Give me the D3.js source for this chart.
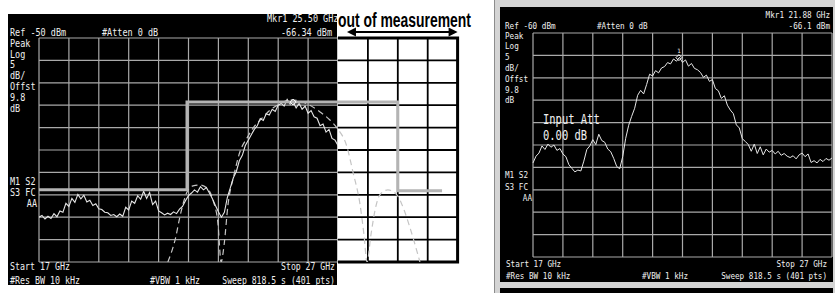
<!DOCTYPE html>
<html>
<head>
<meta charset="utf-8">
<script src="https://cdn.jsdelivr.net/npm/d3@7"></script>
<style>
body { margin: 0; background: #fff; }
svg { display: block; }
text { font-family: 'DejaVu Sans Mono', monospace; }
</style>
</head>
<body>
<svg width="835" height="293"></svg>
<script>
// sweep: 17..27 GHz, 0.1 GHz per sample
var sweepStart = 17, sweepStep = 0.1;

// left screen, measured trace (dBm)
var leftTrace = [
  -90.0,-89.6,-90.4,-89.8,-90.3,-89.2,-89.9,-88.6,-88.9,-86.9,
  -87.6,-85.8,-86.7,-84.9,-85.9,-85.1,-86.6,-86.2,-87.4,-87.0,
  -88.1,-88.3,-88.9,-89.0,-89.6,-89.4,-89.9,-89.3,-89.8,-87.8,
  -88.4,-86.4,-86.9,-85.2,-86.0,-84.2,-85.8,-84.5,-87.2,-86.4,
  -88.6,-89.0,-89.5,-89.1,-89.4,-88.8,-89.2,-88.2,-87.6,-86.3,
  -85.2,-84.6,-83.9,-84.4,-83.2,-83.9,-83.4,-84.6,-85.9,-87.4,
  -88.8,-90.0,-88.9,-85.6,-83.4,-81.2,-79.8,-77.4,-76.2,-74.0,
  -72.8,-71.6,-70.4,-69.6,-68.0,-68.4,-66.9,-67.2,-65.9,-66.4,
  -65.0,-64.6,-65.2,-63.7,-64.8,-64.3,-65.6,-64.6,-65.9,-65.2,
  -66.8,-66.2,-67.6,-67.9,-69.6,-69.2,-71.0,-70.4,-72.4,-72.8,
  -74.0
];

// left screen, theoretical curve (dashed)
var theoryGHz = [21.31,21.55,21.75,21.95,22.15,22.38,22.62,22.82,22.99,23.09,
  23.19,23.32,23.52,23.72,23.96,24.16,24.46,24.73,25.06,25.39,25.73,26.06,26.40,
  26.73,26.97,27.30,27.50,27.74,27.87,27.97,28.10,28.24,28.40,28.67,28.97,29.21,
  29.41,29.58,29.74];
var theoryDbm = [-100,-95.1,-88.8,-84.4,-83.0,-82.8,-83.5,-86.2,-91.7,-100,
  -96.2,-87.3,-80.6,-75.4,-72.3,-70.1,-67.9,-66.1,-64.7,-63.8,-64.1,-65.0,-66.5,
  -68.3,-70.1,-74.3,-79.9,-87.3,-94.0,-100,-94.0,-88.4,-85.0,-83.9,-85.0,-88.4,
  -92.4,-96.2,-100];

// left screen, limit mask
var maskGHz = [17, 21.95, 21.95, 29.0, 29.0, 30.48];
var maskDbm = [-83.9, -83.9, -64.3, -64.3, -84.1, -84.1];

// right screen, measured trace (dBm)
var rightTrace = [
  -89.0,-87.5,-86.8,-85.2,-86.0,-84.8,-85.5,-85.0,-86.2,-85.8,
  -87.0,-87.6,-89.4,-90.2,-91.0,-90.6,-90.8,-88.6,-86.0,-85.2,
  -83.8,-84.9,-82.6,-84.0,-84.4,-85.9,-86.5,-88.0,-89.8,-90.3,
  -87.6,-83.5,-80.6,-78.6,-76.8,-73.9,-72.8,-73.6,-71.5,-69.2,
  -69.6,-68.4,-68.9,-67.8,-67.5,-66.6,-66.9,-65.8,-66.3,-65.4,
  -66.6,-66.0,-67.4,-66.8,-67.9,-68.2,-68.8,-69.9,-69.4,-70.8,
  -70.4,-72.4,-72.9,-74.6,-74.0,-76.1,-77.2,-78.0,-80.5,-81.2,
  -83.6,-84.2,-84.9,-86.4,-84.8,-86.9,-85.4,-87.2,-85.9,-86.6,
  -86.2,-87.0,-86.4,-87.3,-86.9,-87.5,-87.8,-87.4,-88.1,-87.2,
  -86.8,-87.6,-87.0,-88.9,-88.5,-89.0,-88.2,-88.7,-88.0,-88.4,
  -87.9
];

// markers
var leftMarker = [25.5, -64.3];
var rightMarker = [21.88, -65.5];

// screen texts
var sideInfo = ["Peak", "Log", "5", "dB/", "Offst", "9.8", "dB"];
var statusInfo = ["M1 S2", "S3 FC", "AA"];

var svg = d3.select("svg");
var gridColor = "#a9a9a9";
var ink = "#f0f0f0";

function label(g, x, y, s, size, cw, anchor, fill) {
  g.append("text")
    .attr("x", x).attr("y", y)
    .attr("font-size", size)
    .attr("text-anchor", anchor || "start")
    .attr("textLength", s.length * cw)
    .attr("lengthAdjust", "spacingAndGlyphs")
    .attr("fill", fill || ink)
    .text(s);
}

function grid(g, x, y, xs, ys, x0, x1, y0, y1, color, w) {
  g.append("g").selectAll("line").data(xs).enter().append("line")
    .attr("x1", function(d) { return x(d); }).attr("x2", function(d) { return x(d); })
    .attr("y1", y(y0)).attr("y2", y(y1))
    .attr("stroke", color).attr("stroke-width", w);
  g.append("g").selectAll("line").data(ys).enter().append("line")
    .attr("y1", function(d) { return y(d); }).attr("y2", function(d) { return y(d); })
    .attr("x1", x(x0)).attr("x2", x(x1))
    .attr("stroke", color).attr("stroke-width", w);
}

function sweep(d, i) { return sweepStart + i * sweepStep; }

//===== Left screen
var xL = d3.scaleLinear().domain([17, 27]).range([39, 338]);
var yL = d3.scaleLinear().domain([-100, -50]).range([262, 38]);
var left = svg.append("g");

var defs = svg.append("defs");
defs.append("clipPath").attr("id", "clipPanelL").append("rect")
  .attr("x", 8).attr("y", 14).attr("width", xL(27) - 9).attr("height", 271);
defs.append("clipPath").attr("id", "clipGridL").append("rect")
  .attr("x", xL(17)).attr("y", yL(-50)).attr("width", xL(27) - xL(17)).attr("height", yL(-100) - yL(-50));
defs.append("clipPath").attr("id", "clipGridLX").append("rect")
  .attr("x", xL(17)).attr("y", yL(-50)).attr("width", xL(31) - xL(17)).attr("height", yL(-100) - yL(-50));

left.append("rect").attr("x", 8).attr("y", 14)
  .attr("width", xL(27) - 9).attr("height", 271).attr("fill", "#000");
grid(left, xL, yL, d3.range(17, 27.5, 1), d3.range(-100, -49, 5), 17, 27, -100, -50, gridColor, 1.2);

// out-of-measurement extension
var ext = svg.append("g");
ext.append("rect").attr("x", xL(27)).attr("y", yL(-50))
  .attr("width", xL(31) - xL(27)).attr("height", yL(-100) - yL(-50)).attr("fill", "#fff");
grid(ext, xL, yL, [28, 29, 30], d3.range(-95, -54, 5), 27, 31, -100, -50, "#000", 1.8);
ext.append("path")
  .attr("d", "M" + xL(27) + "," + yL(-50) + "H" + xL(31) + "V" + yL(-100) + "H" + xL(27))
  .attr("fill", "none").attr("stroke", "#000").attr("stroke-width", 3);

// theoretical curve
var lineT = d3.line()
  .x(function(d, i) { return xL(theoryGHz[i]); })
  .y(function(d) { return yL(d); })
  .curve(d3.curveMonotoneX);
svg.append("path").datum(theoryDbm)
  .attr("clip-path", "url(#clipGridLX)")
  .attr("d", lineT)
  .attr("fill", "none").attr("stroke", "#c4c4c4")
  .attr("stroke-width", 1.2).attr("stroke-dasharray", "6,4");

// measured trace
var lineL = d3.line()
  .x(function(d, i) { return xL(sweep(d, i)); })
  .y(function(d) { return yL(d); });
svg.append("path").datum(leftTrace)
  .attr("clip-path", "url(#clipGridL)")
  .attr("d", lineL)
  .attr("fill", "none").attr("stroke", "#e6e6e6").attr("stroke-width", 1.1);

// mask
var lineM = d3.line()
  .x(function(d, i) { return xL(maskGHz[i]); })
  .y(function(d) { return yL(d); });
svg.append("path").datum(maskDbm)
  .attr("d", lineM)
  .attr("fill", "none").attr("stroke", "#b4b4b4").attr("stroke-width", 3);

// marker
var mx = xL(leftMarker[0]), my = yL(leftMarker[1]);
svg.append("path")
  .attr("d", "M" + mx + "," + (my - 3) + "L" + (mx + 3) + "," + my + "L" + mx + "," + (my + 3) + "L" + (mx - 3) + "," + my + "Z")
  .attr("fill", "none").attr("stroke", "#fff").attr("stroke-width", 1);

// screen texts
var tL = svg.append("g").attr("clip-path", "url(#clipPanelL)");
label(tL, 10, 35.5, "Ref -50 dBm", 10, 5.1);
label(tL, 102, 35.5, "#Atten 0 dB", 10, 5.1);
label(tL, 267, 22, "Mkr1 25.50 GHz", 10, 5.1);
label(tL, 332, 35.5, "-66.34 dBm", 10, 5.1, "end");
sideInfo.forEach(function(s, i) { label(tL, 10, 46.7 + i * 10.8, s, 10, 5.1); });
label(tL, 10, 185, statusInfo[0], 10, 5.1);
label(tL, 10, 195.5, statusInfo[1], 10, 5.1);
label(tL, 37, 207, statusInfo[2], 10, 5.1, "end");
label(tL, 10, 270, "Start 17 GHz", 10, 5.0);
label(tL, 10, 284, "#Res BW 10 kHz", 10, 5.0);
label(tL, 150, 284, "#VBW 1 kHz", 10, 5.0);
label(tL, 335, 270, "Stop 27 GHz", 10, 4.9, "end");
label(tL, 335, 284, "Sweep 818.5 s (401 pts)", 10, 4.9, "end");

// annotation above the extension
svg.append("text")
  .attr("x", xL(27)).attr("y", 27)
  .style("font-family", "'Liberation Sans Narrow', 'Liberation Sans', Arial, sans-serif")
  .style("font-size", "20px")
  .style("font-weight", "bold")
  .attr("textLength", 133).attr("lengthAdjust", "spacingAndGlyphs")
  .attr("fill", "#000")
  .text("out of measurement");
var ay = 32, ax0 = xL(27.3), ax1 = xL(31);
svg.append("line").attr("x1", ax0 + 6).attr("x2", ax1 - 6).attr("y1", ay).attr("y2", ay)
  .attr("stroke", "#000").attr("stroke-width", 2);
svg.append("path")
  .attr("d", "M" + ax0 + "," + ay + "l9,-4.5v9Z M" + ax1 + "," + ay + "l-9,-4.5v9Z")
  .attr("fill", "#000");

//===== Right screen
var xR = d3.scaleLinear().domain([17, 27]).range([533, 832]);
var yR = d3.scaleLinear().domain([-110, -60]).range([257, 33]);
var right = svg.append("g");

right.append("rect").attr("x", 494).attr("y", 0).attr("width", 341).attr("height", 293).attr("fill", "#d4d4d4");
right.append("line").attr("x1", 494.5).attr("x2", 494.5).attr("y1", 0).attr("y2", 293)
  .attr("stroke", "#8c8c8c").attr("stroke-width", 1);
right.append("rect").attr("x", 500).attr("y", 7).attr("width", 333).attr("height", 275).attr("fill", "#000");
right.append("rect").attr("x", 500).attr("y", 288).attr("width", 333).attr("height", 5).attr("fill", "#000");
grid(right, xR, yR, d3.range(17, 27.5, 1), d3.range(-110, -59, 5), 17, 27, -110, -60, gridColor, 1.2);

var lineR = d3.line()
  .x(function(d, i) { return xR(sweep(d, i)); })
  .y(function(d) { return yR(d); });
right.append("path").datum(rightTrace)
  .attr("d", lineR)
  .attr("fill", "none").attr("stroke", "#e6e6e6").attr("stroke-width", 1);

var rx = xR(rightMarker[0]), ry = yR(rightMarker[1]);
right.append("path")
  .attr("d", "M" + rx + "," + (ry - 3) + "L" + (rx + 3) + "," + ry + "L" + rx + "," + (ry + 3) + "L" + (rx - 3) + "," + ry + "Z")
  .attr("fill", "none").attr("stroke", "#fff").attr("stroke-width", 1);
label(right, rx, ry - 5, "1", 6, 3.5, "middle");

label(right, 505, 28.5, "Ref -60 dBm", 9, 4.6);
label(right, 597, 28.5, "#Atten 0 dB", 9, 4.6);
label(right, 830, 18, "Mkr1 21.88 GHz", 9, 4.6, "end");
label(right, 830, 28.5, "-66.1 dBm", 9, 4.6, "end");
sideInfo.forEach(function(s, i) { label(right, 505, 38.5 + i * 10.8, s, 9, 4.6); });
label(right, 505, 178, statusInfo[0], 9, 4.6);
label(right, 505, 189.5, statusInfo[1], 9, 4.6);
label(right, 532, 201, statusInfo[2], 9, 4.6, "end");
label(right, 506, 267, "Start 17 GHz", 9, 4.6);
label(right, 506, 279, "#Res BW 10 kHz", 9, 4.6);
label(right, 642, 279, "#VBW 1 kHz", 9, 4.6);
label(right, 827, 267, "Stop 27 GHz", 9, 4.6, "end");
label(right, 827, 279, "Sweep 818.5 s (401 pts)", 9, 4.6, "end");

label(right, 543, 123.5, "Input Att", 13.5, 6.3);
label(right, 543, 140, "0.00 dB", 13.5, 6.3);
</script>
</body>
</html>
